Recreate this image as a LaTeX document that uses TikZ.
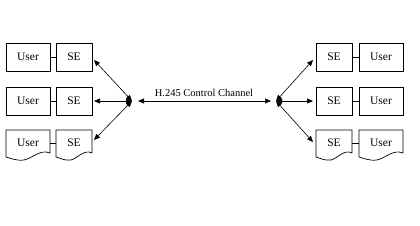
\documentclass[tikz,border=0pt]{standalone}
\usepackage{fontspec}
\setmainfont{Liberation Serif}
\usetikzlibrary{arrows.meta}
\begin{document}
\begin{tikzpicture}[x=1pt,y=-1pt,
  box/.style={draw,line width=0.7pt,inner sep=0pt,font=\fontsize{11.5}{12}\selectfont},
  ubox/.style={box,minimum width=44pt,minimum height=28pt},
  sbox/.style={box,minimum width=36pt,minimum height=28pt},
  link/.style={line width=0.7pt},
  dbl/.style={line width=0.6pt,{Triangle[length=6pt,width=5pt]}-{Triangle[length=6pt,width=5pt]}},
  docshape/.style={draw,line width=0.7pt}]
\useasboundingbox (0,0) rectangle (420,225);
% left side
\node[ubox] (u1) at (28,57) {User};
\node[sbox] (s1) at (74,57) {SE};
\node[ubox] (u2) at (28,101) {User};
\node[sbox] (s2) at (74,101) {SE};
\node[inner sep=0pt,minimum width=44pt,minimum height=24pt,font=\fontsize{11.5}{12}\selectfont] (u3) at (28,143) {User};
\node[inner sep=0pt,minimum width=36pt,minimum height=24pt,font=\fontsize{11.5}{12}\selectfont] (s3) at (74,143) {SE};
% right side
\node[sbox] (s4) at (334,57) {SE};
\node[ubox] (u4) at (381,57) {User};
\node[sbox] (s5) at (334,101) {SE};
\node[ubox] (u5) at (381,101) {User};
\node[inner sep=0pt,minimum width=36pt,minimum height=24pt,font=\fontsize{11.5}{12}\selectfont] (s6) at (334,143) {SE};
\node[inner sep=0pt,minimum width=44pt,minimum height=24pt,font=\fontsize{11.5}{12}\selectfont] (u6) at (381,143) {User};
% document shapes
\draw[docshape] (6,157) -- (6,130) -- (50,130) -- (50,153) .. controls (40,149) and (33,158) .. (24,160) .. controls (16,161) and (10,158) .. (6,157);
\draw[docshape] (56,157) -- (56,130) -- (92,130) -- (92,153) .. controls (84,149) and (78,158) .. (71,160) .. controls (65,161) and (60,158) .. (56,157);
\draw[docshape] (316,157) -- (316,130) -- (352,130) -- (352,153) .. controls (344,149) and (338,158) .. (331,160) .. controls (325,161) and (320,158) .. (316,157);
\draw[docshape] (359,157) -- (359,130) -- (403,130) -- (403,153) .. controls (393,149) and (386,158) .. (377,160) .. controls (369,161) and (363,158) .. (359,157);
% user-SE links
\draw[link] (u1) -- (s1);
\draw[link] (u2) -- (s2);
\draw[link] (50,143) -- (56,143);
\draw[link] (s4) -- (u4);
\draw[link] (s5) -- (u5);
\draw[link] (352,143) -- (359,143);
% hubs and tips
\coordinate (hl) at (132,101);
\coordinate (hr) at (276,101);
\coordinate (hlc) at (138,101);
\coordinate (hrc) at (271,101);
\coordinate (t1) at (94,60);
\coordinate (t2) at (94,101);
\coordinate (t3) at (94,140);
\coordinate (t4) at (313,60);
\coordinate (t5) at (313,101);
\coordinate (t6) at (313,142);
\draw[dbl] (t1) -- (hl);
\draw[dbl] (t2) -- (hl);
\draw[dbl] (t3) -- (hl);
\draw[dbl] (hlc) -- (hrc);
\draw[dbl] (hr) -- (t4);
\draw[dbl] (hr) -- (t5);
\draw[dbl] (hr) -- (t6);
\node[font=\fontsize{10.5}{11}\selectfont,inner sep=0pt] (lbl) at (204,93) {H.245 Control Channel};
\end{tikzpicture}
\end{document}
